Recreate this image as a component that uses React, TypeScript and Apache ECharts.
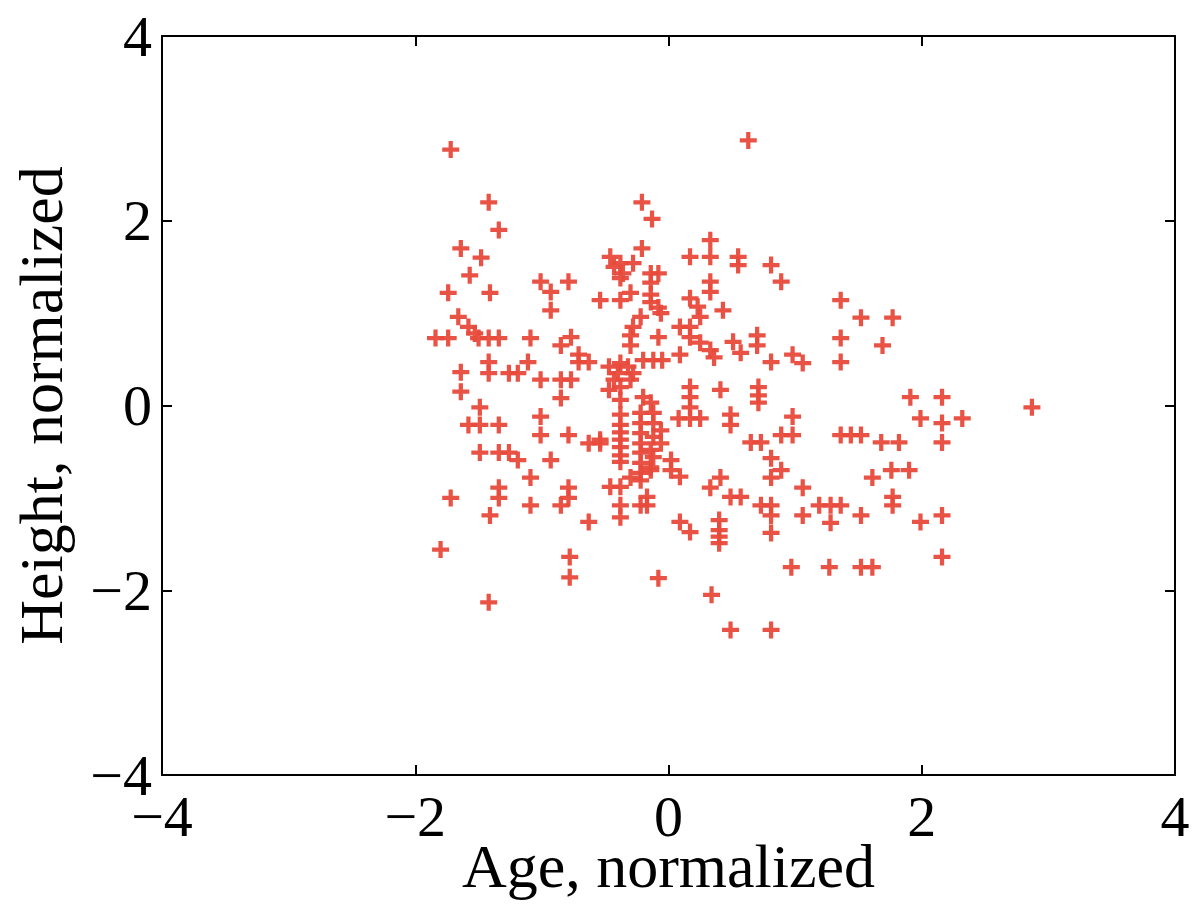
import React, { useEffect, useRef } from "react";
import * as echarts from "echarts";

// Each sample is [age, height], both normalized.
const upperLeftSamples: [number, number][] = [
  [-1.72, 2.77], [-1.42, 2.2], [-1.34, 1.9], [-1.64, 1.7], [-1.48, 1.6], [-1.57, 1.41],
  [-1.74, 1.22], [-1.41, 1.22], [-1.01, 1.34], [-0.93, 1.23], [-0.93, 1.03], [-0.79, 1.34],
  [-0.54, 1.14], [-1.66, 0.96], [-1.58, 0.85], [-1.53, 0.78], [-1.84, 0.73], [-1.74, 0.73],
  [-1.5, 0.73], [-1.42, 0.73], [-1.34, 0.73], [-1.09, 0.73], [-0.85, 0.65], [-0.77, 0.74],
  [-0.71, 0.55], [-0.71, 0.47], [-0.63, 0.47], [-1.42, 0.47], [-1.42, 0.35], [-1.64, 0.36],
  [-1.64, 0.15], [-1.26, 0.35], [-1.19, 0.35], [-1.11, 0.47], [-1.01, 0.28], [-0.85, 0.28],
  [-0.77, 0.28], [-0.85, 0.08],
];

const upperRightSamples: [number, number][] = [
  [-0.21, 2.2], [-0.13, 2.02], [-0.21, 1.7], [-0.46, 1.61], [-0.38, 1.54], [-0.43, 1.5],
  [-0.28, 1.54], [-0.36, 1.43], [-0.38, 1.38], [-0.14, 1.43], [-0.08, 1.43], [-0.14, 1.33],
  [-0.38, 1.14], [-0.3, 1.22], [-0.14, 1.2], [-0.14, 1.12], [-0.08, 1.06], [-0.06, 1.0],
  [-0.22, 0.96], [-0.28, 0.85], [-0.3, 0.76], [-0.3, 0.65], [-0.08, 0.74], [0.09, 0.85],
  [0.17, 0.85], [0.17, 0.74], [0.25, 0.68], [0.33, 0.6], [0.36, 0.52], [0.09, 0.55],
  [0.17, 1.61], [0.33, 1.79], [0.33, 1.61], [0.55, 1.61], [0.55, 1.52], [0.81, 1.52],
  [0.89, 1.34], [0.33, 1.34], [0.33, 1.23], [0.17, 1.16], [0.23, 1.07], [0.25, 0.96],
  [0.43, 1.03], [0.51, 0.69], [0.57, 0.57], [0.7, 0.76], [0.7, 0.65], [0.81, 0.47],
  [0.98, 0.55], [1.06, 0.46], [1.36, 1.14], [1.52, 0.95], [1.77, 0.95], [1.36, 0.73],
  [1.69, 0.65], [1.36, 0.47], [0.63, 2.87],
];

const centreSamples: [number, number][] = [
  [-0.47, 0.42], [-0.38, 0.46], [-0.4, 0.35], [-0.32, 0.42], [-0.28, 0.35], [-0.43, 0.28],
  [-0.38, 0.2], [-0.3, 0.28], [-0.2, 0.49], [-0.12, 0.49], [-0.05, 0.49], [-0.47, 0.17],
  [-0.38, 0.06], [-0.2, 0.09], [-0.14, 0.03], [-0.22, -0.08], [-0.12, -0.08], [-0.38, -0.1],
  [-0.38, -0.21], [-0.38, -0.29], [-0.38, -0.37], [-0.38, -0.45], [-0.38, -0.54], [-0.38, -0.61],
  [-0.22, -0.19], [-0.22, -0.3], [-0.22, -0.41], [-0.22, -0.51], [-0.22, -0.62], [-0.22, -0.73],
  [-0.12, -0.19], [-0.06, -0.27], [-0.12, -0.34], [-0.06, -0.41], [-0.14, -0.48], [-0.12, -0.56],
  [-0.14, -0.67], [-0.54, -0.37], [0.02, -0.59], [0.02, -0.7], [0.09, -0.77],
];

const lowerRightSamples: [number, number][] = [
  [0.17, 0.2], [0.17, 0.09], [0.17, -0.02], [0.08, -0.14], [0.17, -0.14], [0.25, -0.14],
  [0.41, 0.17], [0.49, -0.1], [0.49, -0.21], [0.71, 0.2], [0.71, 0.11], [0.71, 0.03],
  [0.65, -0.4], [0.73, -0.4], [0.89, -0.32], [0.98, -0.32], [0.98, -0.12], [0.81, -0.57],
  [0.89, -0.7], [0.81, -0.78], [0.41, -0.78], [0.33, -0.89], [0.49, -0.99], [0.57, -0.99],
  [0.73, -1.08], [0.81, -1.08], [0.81, -1.19], [0.81, -1.38], [1.06, -0.89], [1.06, -1.19],
  [1.19, -1.08], [1.28, -1.08], [1.36, -1.08], [1.28, -1.27], [1.52, -1.19], [1.61, -0.78],
  [1.76, -0.7], [1.9, -0.7], [1.77, -0.99], [1.77, -1.08], [1.99, -1.26], [2.16, -1.19],
  [2.16, -1.64], [1.36, -0.32], [1.44, -0.32], [1.52, -0.32], [1.68, -0.4], [1.82, -0.4],
  [1.91, 0.09], [2.16, 0.09], [1.99, -0.14], [2.16, -0.19], [2.16, -0.4], [2.32, -0.14],
  [2.87, -0.02], [0.09, -1.26], [0.17, -1.37], [0.4, -1.24], [0.4, -1.35], [0.4, -1.42],
  [0.4, -1.49], [-0.08, -1.87], [0.97, -1.75], [1.27, -1.75], [1.52, -1.75], [1.61, -1.75],
  [0.34, -2.05], [0.49, -2.43], [0.81, -2.43],
];

const lowerLeftSamples: [number, number][] = [
  [-1.49, -0.02], [-1.58, -0.21], [-1.49, -0.21], [-1.34, -0.21], [-1.01, -0.12], [-1.01, -0.32],
  [-0.79, -0.32], [-0.63, -0.41], [-0.54, -0.41], [-1.49, -0.51], [-1.34, -0.51], [-1.26, -0.51],
  [-1.19, -0.59], [-0.93, -0.59], [-1.09, -0.78], [-1.34, -0.89], [-1.34, -1.0], [-1.72, -1.0],
  [-1.09, -1.08], [-1.41, -1.19], [-0.79, -0.89], [-0.79, -1.0], [-0.85, -1.08], [-0.63, -1.26],
  [-1.8, -1.56], [-0.78, -1.64], [-0.78, -1.86], [-1.42, -2.13], [-0.46, -0.88], [-0.38, -0.88],
  [-0.38, -1.08], [-0.38, -1.21], [-0.22, -1.08], [-0.17, -0.99], [-0.17, -1.08], [-0.3, -0.78],
  [-0.22, -0.81], [-0.14, -0.7],
];

const tickValues: number[] = [-4, -2, 0, 2, 4];

const FONT = "'Liberation Serif', 'Times New Roman', serif";
const MARK_COLOR = "#E84A3B";
const PLUS = "path://M3,0H5V3H8V5H5V8H3V5H0V3H3Z";

const fmt = (v: number) => (v < 0 ? "\u2212" + Math.abs(v) : String(v));

export default function App() {
  const ref = useRef<HTMLDivElement>(null);

  useEffect(() => {
    if (!ref.current) return;
    const chart = echarts.init(ref.current, undefined, { renderer: "svg" });

    const points = [
      ...upperLeftSamples,
      ...upperRightSamples,
      ...centreSamples,
      ...lowerRightSamples,
      ...lowerLeftSamples,
    ];
    const axisLine = { show: true, onZero: false, lineStyle: { color: "#000", width: 2 } };
    const tick = { show: true, inside: true, length: 10, lineStyle: { color: "#000", width: 2 } };
    const label = { color: "#000", fontFamily: FONT, fontSize: 58, formatter: fmt };
    const range = {
      min: tickValues[0],
      max: tickValues[tickValues.length - 1],
      interval: tickValues[1] - tickValues[0],
    };

    chart.setOption({
      animation: false,
      backgroundColor: "#fff",
      grid: {
        left: 162,
        right: 18,
        top: 36,
        bottom: 130,
        containLabel: false,
        outerBoundsMode: "none",
      },
      xAxis: [
        {
          type: "value",
          ...range,
          position: "bottom",
          axisLine,
          axisTick: tick,
          axisLabel: { ...label, margin: 12 },
          splitLine: { show: false },
          name: "Age, normalized",
          nameLocation: "middle",
          nameGap: 60,
          nameMoveOverlap: false,
          nameTextStyle: { color: "#000", fontFamily: FONT, fontSize: 62 },
        },
        {
          type: "value",
          ...range,
          position: "top",
          axisLine,
          axisTick: tick,
          axisLabel: { show: false },
          splitLine: { show: false },
        },
      ],
      yAxis: [
        {
          type: "value",
          ...range,
          position: "left",
          axisLine,
          axisTick: tick,
          axisLabel: { ...label, margin: 10 },
          splitLine: { show: false },
          name: "Height, normalized",
          nameLocation: "middle",
          nameRotate: 90,
          nameGap: 90,
          nameMoveOverlap: false,
          nameTextStyle: { color: "#000", fontFamily: FONT, fontSize: 62 },
        },
        {
          type: "value",
          ...range,
          position: "right",
          axisLine,
          axisTick: tick,
          axisLabel: { show: false },
          splitLine: { show: false },
        },
      ],
      series: [
        {
          type: "scatter",
          data: points,
          symbol: PLUS,
          symbolSize: 17,
          itemStyle: { color: MARK_COLOR, opacity: 0.95 },
        },
      ],
    });

    return () => chart.dispose();
  }, []);

  return (
    <div
      ref={ref}
      style={{ position: "fixed", left: 0, top: 0, width: 1193, height: 905 }}
    />
  );
}
